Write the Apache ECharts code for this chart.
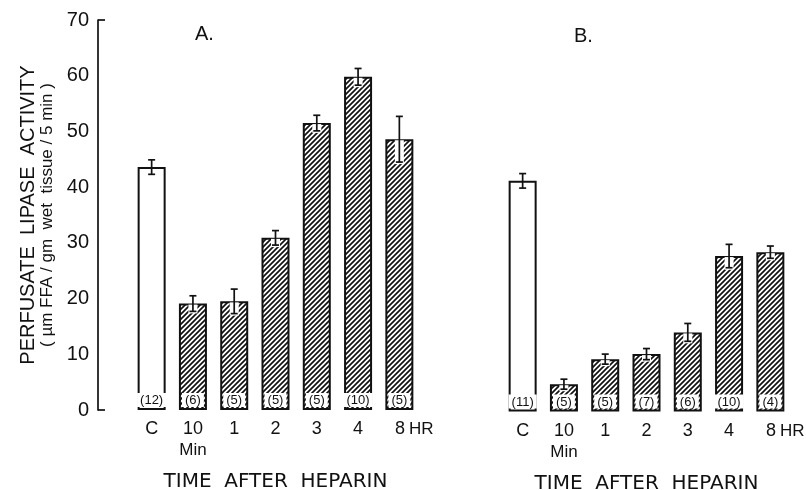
<!DOCTYPE html>
<html>
<head>
<meta charset="utf-8">
<script src="https://cdn.jsdelivr.net/npm/echarts@6/dist/echarts.min.js"></script>
<style>
  html, body { margin: 0; padding: 0; background: #fff; }
  #chart { width: 806px; height: 490px; }
</style>
</head>
<body>
<div id="chart"></div>
<script>
// Time points after heparin injection (C = control)
const categories = ['C', '10', '1', '2', '3', '4', '8'];

// Panel A: perfusate lipase activity, mean and standard error, group size
const valuesA = [43.6, 19.1, 19.5, 30.9, 51.5, 59.8, 48.6];
const errorsA = [1.3, 1.4, 2.2, 1.3, 1.4, 1.5, 4.1];
const countsA = [12, 6, 5, 5, 5, 10, 5];

// Panel B
const valuesB = [41.4, 4.9, 9.4, 10.3, 14.2, 27.9, 28.6];
const errorsB = [1.3, 0.9, 0.9, 1.0, 1.6, 2.1, 1.1];
const countsB = [11, 5, 5, 7, 6, 10, 4];

// Value axis range
const yMin = 0;
const yMax = 70;
const yStep = 10;

const FONT = 'Liberation Sans, Arial, sans-serif';

// Diagonal hatch tile for the post-heparin bars
function makeHatch() {
  const s = 5;
  const c = document.createElement('canvas');
  c.width = s; c.height = s;
  const g = c.getContext('2d');
  g.fillStyle = '#fff';
  g.fillRect(0, 0, s, s);
  g.strokeStyle = '#111';
  g.lineWidth = 1.7;
  g.beginPath();
  g.moveTo(-1, s + 1); g.lineTo(s + 1, -1);
  g.moveTo(-1, 1); g.lineTo(1, -1);
  g.moveTo(s - 1, s + 1); g.lineTo(s + 1, s - 1);
  g.stroke();
  return c;
}
const hatch = { image: makeHatch(), repeat: 'repeat' };

function barData(values, counts) {
  return values.map((v, i) => ({
    value: v,
    itemStyle: { color: i === 0 ? '#fff' : hatch },
    count: counts[i]
  }));
}

function errData(values, errors) {
  return values.map((v, i) => [i, v, errors[i], i === 0 ? 0 : 1]);
}

function renderErr(params, api) {
  const x = api.value(0), v = api.value(1), e = api.value(2), hatched = api.value(3);
  const top = api.coord([x, v + e]);
  const mid = api.coord([x, v]);
  const bot = api.coord([x, v - e]);
  const cap = 3.5;
  const children = [];
  if (hatched) {
    children.push({
      type: 'rect',
      shape: { x: top[0] - 4.5, y: mid[1] + 1, width: 9, height: Math.max(0, bot[1] - mid[1] + 1) },
      style: { fill: '#fff' }
    });
  }
  const st = { stroke: '#111', lineWidth: 1.7 };
  children.push({ type: 'line', shape: { x1: top[0], y1: top[1], x2: bot[0], y2: bot[1] }, style: st });
  children.push({ type: 'line', shape: { x1: top[0] - cap, y1: top[1], x2: top[0] + cap, y2: top[1] }, style: st });
  children.push({ type: 'line', shape: { x1: bot[0] - cap, y1: bot[1], x2: bot[0] + cap, y2: bot[1] }, style: st });
  return { type: 'group', children };
}

function xAxisFor(gridIndex) {
  return {
    type: 'category',
    gridIndex,
    data: categories,
    axisLine: { show: false },
    axisTick: { show: false },
    axisLabel: {
      interval: 0,
      color: '#111',
      fontFamily: FONT,
      fontSize: 18,
      margin: 9,
      lineHeight: 21,
      formatter: (v) => {
        if (v === '10') return '10\n{min|Min}';
        if (v === '8') return '{pad|}8{hr|HR}';
        return v;
      },
      rich: {
        min: { fontFamily: FONT, fontSize: 17, color: '#111', lineHeight: 21 },
        hr: { fontFamily: FONT, fontSize: 17, color: '#111', padding: [0, 0, 0, 4] },
        pad: { width: 30 }
      }
    },
    name: 'TIME  AFTER  HEPARIN',
    nameLocation: 'middle',
    nameGap: 62,
    nameTextStyle: { color: '#111', fontFamily: 'DejaVu Sans, sans-serif', fontSize: 20 }
  };
}

function barSeries(idx, values, counts) {
  return {
    type: 'bar',
    xAxisIndex: idx,
    yAxisIndex: idx === 0 ? 0 : 2,
    barWidth: 28,
    data: barData(values, counts),
    itemStyle: { borderColor: '#111', borderWidth: 2 },
    label: {
      show: true,
      position: 'insideBottom',
      distance: 3,
      formatter: (p) => '(' + p.data.count + ')',
      fontFamily: FONT,
      fontSize: 13,
      color: '#111',
      backgroundColor: '#fff',
      padding: [1, 3, 0, 3]
    },
    z: 2
  };
}

function errSeries(idx, values, errors) {
  return {
    type: 'custom',
    xAxisIndex: idx,
    yAxisIndex: idx === 0 ? 0 : 2,
    data: errData(values, errors),
    encode: { x: 0, y: 1 },
    renderItem: renderErr,
    z: 5
  };
}

const chart = echarts.init(document.getElementById('chart'), null, { renderer: 'canvas' });

chart.setOption({
  animation: false,
  backgroundColor: '#fff',
  title: [
    { text: 'A.', left: 190, top: 19, textStyle: { fontFamily: FONT, fontSize: 20, fontWeight: 'normal', color: '#111' } },
    { text: 'B.', left: 569, top: 21, textStyle: { fontFamily: FONT, fontSize: 20, fontWeight: 'normal', color: '#111' } }
  ],
  grid: [
    { left: 131, width: 289, top: 20, bottom: 80, containLabel: false, outerBoundsMode: 'none' },
    { left: 502, width: 289, top: 21.5, bottom: 78.5, containLabel: false, outerBoundsMode: 'none' }
  ],
  xAxis: [xAxisFor(0), xAxisFor(1)],
  yAxis: [
    {
      type: 'value',
      gridIndex: 0,
      position: 'left',
      offset: 33,
      min: yMin, max: yMax, interval: yStep,
      splitLine: { show: false },
      axisTick: { show: false },
      axisLine: { show: true, lineStyle: { color: '#111', width: 1.7 } },
      axisLabel: { color: '#111', fontFamily: FONT, fontSize: 20, margin: 9 },
      name: '{a|PERFUSATE  LIPASE  ACTIVITY}\n{b|( µm FFA / gm  wet  tissue / 5 min )}',
      nameLocation: 'middle',
      nameRotate: 90,
      nameGap: 41,
      nameTextStyle: {
        color: '#111',
        rich: {
          a: { fontFamily: FONT, fontSize: 20, color: '#111', lineHeight: 19 },
          b: { fontFamily: FONT, fontSize: 17, color: '#111', lineHeight: 19 }
        }
      }
    },
    {
      // end ticks at 0 and 70 pointing into the plot
      type: 'value',
      gridIndex: 0,
      position: 'left',
      offset: 33,
      min: yMin, max: yMax, interval: yMax - yMin,
      splitLine: { show: false },
      axisLine: { show: false },
      axisLabel: { show: false },
      axisTick: { show: true, inside: true, length: 7, lineStyle: { color: '#111', width: 1.7 } }
    },
    {
      type: 'value',
      gridIndex: 1,
      min: yMin, max: yMax, interval: yStep,
      show: false
    }
  ],
  series: [
    barSeries(0, valuesA, countsA),
    errSeries(0, valuesA, errorsA),
    barSeries(1, valuesB, countsB),
    errSeries(1, valuesB, errorsB)
  ]
});
</script>
</body>
</html>
